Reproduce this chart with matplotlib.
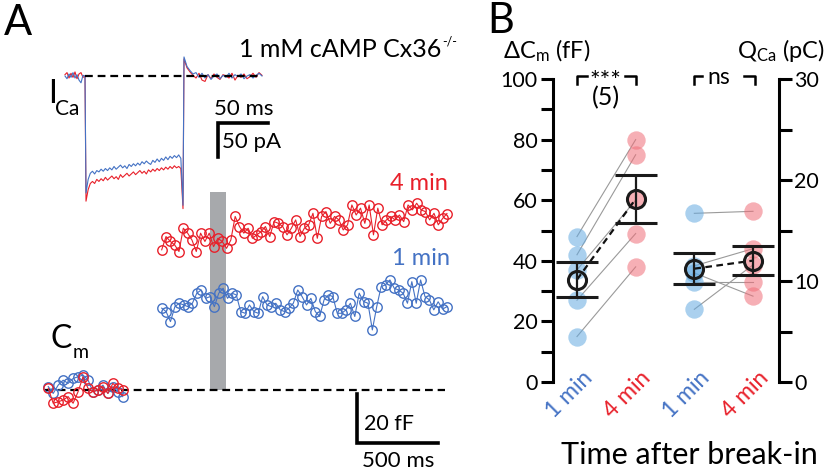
import numpy as np
import matplotlib.pyplot as plt

plt.rcParams['font.family'] = ['Lato', 'DejaVu Sans']
plt.rcParams['mathtext.fontset'] = 'custom'
plt.rcParams['mathtext.rm'] = 'Lato'
plt.rcParams['mathtext.it'] = 'Lato:italic'

BLUE = '#4472C4'
RED = '#E8202A'
PT_BLUE = '#64aae1'
PT_RED = '#f06e78'

# ---------- panel A: Ca current (pA), pre / pulse / tail segments
ica_1min_pre = [0, -4, 3, -2, 5, -3, 2, -6, -10, 1, 0]
ica_1min_pulse = [-172, -152, -143, -140, -144, -139, -141, -137, -140, -136,
                  -139, -135, -138, -133, -137, -134, -131, -135, -132, -136,
                  -130, -133, -129, -132, -128, -131, -126, -129, -125, -128,
                  -130, -124, -127, -122, -126, -121, -124, -119, -123, -118,
                  -121, -117, -120, -116, -121, -190]
ica_1min_post = [28, 14, 8, 3, 5, -2, 4, -3, 2, -5, 0, 3, -4, 1, -2, 4, -3, 2,
                 -1, 3, -4, 0, 2, -3, 1, 4, 0]
ica_4min_pre = [2, 5, -3, 4, -2, 6, -4, 3, 5, -2, 0]
ica_4min_pulse = [-184, -167, -158, -155, -158, -152, -155, -151, -154, -149,
                  -153, -150, -147, -151, -148, -152, -145, -149, -146, -143,
                  -147, -144, -141, -145, -142, -139, -143, -140, -144, -138,
                  -141, -137, -140, -136, -139, -135, -138, -134, -137, -133,
                  -136, -132, -135, -133, -136, -195]
ica_4min_post = [25, 12, 6, 1, -3, 4, -6, -8, 2, -4, 3, -2, -5, 2, 0, -3, 4,
                 -6, 1, -2, 3, -4, -1, 4, -2, 5, 1]

# ---------- panel A: membrane capacitance (fF)
cm_pre_1min = [1.4, -1.4, 2, 4, 2.7, 4.7, 5.4, 6.1, 4.1, -0.7, 0, 2, -1.4, 1.4,
               -0.7, -2.7]
cm_pre_4min = [0.7, -5.4, -4.8, -4.1, -2.7, -5.4, -0.7, 5.4, 0.7, -0.7, 0, 1.4,
               -1.4, 2.7, 0.7, 0]
cm_post_4min = [57.2, 62.6, 60.6, 59.2, 56.5, 66, 64, 61.2, 56.5, 64, 60.6, 64,
                58.5, 61.9, 60.6, 57.8, 61.2, 70.8, 66.7, 64, 66, 61.9, 63.3,
                64.6, 66.7, 62.6, 68.7, 68, 66.7, 63.3, 66, 69.4, 62.6, 66,
                67.4, 72.1, 61.9, 70.8, 72.8, 68, 70.8, 69.4, 65.3, 67.4, 75.5,
                71.4, 74.2, 68, 75.5, 63.3, 74.2, 67.4, 69.4, 70.8, 69.4, 71.4,
                68.7, 75.5, 73.5, 76.2, 73.5, 72.8, 69.4, 72.1, 67.4, 70, 72]
cm_post_1min = [33.4, 32, 27.9, 34, 35.4, 34.7, 34, 35.4, 39.5, 40.8, 37.4,
                38.1, 34, 39.5, 41.5, 37.4, 39.5, 38.8, 32, 31.3, 34.7, 32,
                31.3, 38.1, 34.7, 34, 35.4, 32.7, 32, 33.4, 35.4, 40.8, 38.1,
                34.7, 37.4, 32, 30, 36.8, 38.8, 38.1, 31.3, 31.3, 32.7, 35.4,
                30, 39.5, 36.1, 35.4, 24.5, 34, 42.2, 42.9, 44.9, 41.5, 40.8,
                39.5, 35.4, 44.2, 35.4, 44.9, 38.1, 36.8, 32.7, 36, 33, 34]

# ---------- panel B
conditions = ['1 min', '4 min']
dcm_1min = [48, 42, 37, 27, 15]
dcm_4min = [80, 75, 60, 49, 38]
qca_1min = [16.7, 11.5, 10.8, 9.9, 7.2]
qca_4min = [16.9, 13.2, 8.5, 9.9, 11.6]

W, H = 828, 471
fig = plt.figure(figsize=(W / 100, H / 100), dpi=100)


def fx(x):
    return x / W


def fy(y):
    return 1 - y / H


def ica_time(pre, pulse, post):
    return np.concatenate([np.linspace(0, 20, len(pre)),
                           np.linspace(21, 118, len(pulse)),
                           np.linspace(119, 197, len(post))])


# current trace axes: 1 ms per px, 1.47 pA per px, t=0 at x=65, 0 pA at y=76
axI = fig.add_axes([0, 0, 0.6, 1])
axI.set_xlim(-65, 0.6 * W - 65)
axI.set_ylim((76 - H) * 1.47, 76 * 1.47)
axI.axis('off')
axI.plot(ica_time(ica_4min_pre, ica_4min_pulse, ica_4min_post),
         ica_4min_pre + ica_4min_pulse + ica_4min_post, color=RED, lw=0.8)
axI.plot(ica_time(ica_1min_pre, ica_1min_pulse, ica_1min_post),
         ica_1min_pre + ica_1min_pulse + ica_1min_post, color=BLUE, lw=0.8)
axI.plot([20, 197], [0, 0], color='k', lw=1.6, dashes=(3.5, 2.2))
axI.plot([153, 153, 203], [-119, -69, -69], color='k', lw=2.6,
         solid_joinstyle='miter')

# capacitance axes: 6.17 ms per px, 0.408 fF per px, t=0 at x=45, 0 fF at y=390
axC = fig.add_axes([0, 0, 0.6, 1])
axC.set_xlim(-45 * 6.17, (0.6 * W - 45) * 6.17)
axC.set_ylim((390 - H) * 0.408, 390 * 0.408)
axC.axis('off')
axC.bar(1067, 80.8, width=100, color='#a7a9ac', zorder=1)
axC.plot([0, 2468], [0, 0], color='k', lw=1.6, dashes=(3.5, 2.2), zorder=2)
mk = dict(marker='o', ms=6.8, mfc='none', mew=1.0, lw=0.8, zorder=3)
t_pre = np.linspace(20, 480, len(cm_pre_1min))
axC.plot(t_pre, cm_pre_1min, color=BLUE, mec=BLUE, **mk)
axC.plot(t_pre, cm_pre_4min, color=RED, mec=RED, **mk)
axC.plot(np.linspace(720, 2480, len(cm_post_4min)), cm_post_4min, color=RED,
         mec=RED, **mk)
axC.plot(np.linspace(720, 2480, len(cm_post_1min)), cm_post_1min, color=BLUE,
         mec=BLUE, **mk)
axC.plot([1925, 1925, 2425], [-1.6, -21.6, -21.6], color='k', lw=2.6,
         solid_joinstyle='miter')

# panel A text
fig.text(fx(4), fy(35), 'A', fontsize=30, va='baseline')
fig.text(fx(239), fy(57), '1 mM cAMP Cx36', fontsize=18, va='baseline')
fig.text(fx(442), fy(45), '-/-', fontsize=9, va='baseline')
fig.text(fx(48), fy(103), 'I', fontsize=23, va='baseline')
fig.text(fx(55), fy(115), 'Ca', fontsize=15, va='baseline')
fig.text(fx(214), fy(115), '50 ms', fontsize=16, va='baseline')
fig.text(fx(222), fy(148), '50 pA', fontsize=16, va='baseline')
fig.text(fx(448), fy(190), '4 min', fontsize=17, va='baseline', ha='right',
         color=RED)
fig.text(fx(450), fy(265), '1 min', fontsize=17, va='baseline', ha='right',
         color=BLUE)
fig.text(fx(51), fy(348), 'C', fontsize=23, va='baseline')
fig.text(fx(73), fy(358), 'm', fontsize=14, va='baseline')
fig.text(fx(364), fy(430), '20 fF', fontsize=15.5, va='baseline')
fig.text(fx(362), fy(467), '500 ms', fontsize=16, va='baseline')

# ---------- panel B axes
axB = fig.add_axes([fx(553), 1 - 382 / H, (779 - 553) / W, (382 - 79) / H])
axB.set_xlim(0.591, 4.443)
axB.set_ylim(0, 100)
axQ = axB.twinx()
axQ.set_ylim(0, 30)

for ax in (axB, axQ):
    for s in ax.spines.values():
        s.set_visible(False)
    ax.set_xticks([])
axB.spines['left'].set_visible(True)
axB.spines['left'].set_linewidth(2.2)
axQ.spines['right'].set_visible(True)
axQ.spines['right'].set_linewidth(2.2)

axB.set_yticks(np.arange(0, 101, 20))
axB.set_yticks(np.arange(10, 100, 20), minor=True)
axQ.set_yticks(np.arange(0, 31, 10))
axQ.set_yticks(np.arange(5, 30, 10), minor=True)
for ax in (axB, axQ):
    ax.tick_params(axis='y', which='both', width=2.2, length=9, labelsize=15.5,
                   pad=2)
axB.patch.set_visible(False)


def pair_plot(ax, xs, before, after):
    for a, b in zip(before, after):
        ax.plot(xs, [a, b], color='#9a9a9a', lw=0.8, zorder=1)
    ax.scatter([xs[0]] * len(before), before, s=175, color=PT_BLUE,
               alpha=0.55, lw=0, zorder=2)
    ax.scatter([xs[1]] * len(after), after, s=175, color=PT_RED,
               alpha=0.55, lw=0, zorder=2)
    means = [np.mean(before), np.mean(after)]
    sems = [np.std(before, ddof=1) / np.sqrt(len(before)),
            np.std(after, ddof=1) / np.sqrt(len(after))]
    ax.plot(xs, means, color='#111111', lw=1.6, dashes=(3, 2), zorder=3)
    ax.errorbar(xs, means, yerr=sems, fmt='o', mfc='none', mec='#1a1a1a',
                mew=2.2, ms=13, ecolor='#1a1a1a', elinewidth=1.6, capsize=15,
                capthick=1.6, zorder=4)


pair_plot(axB, [1, 2], dcm_1min, dcm_4min)
pair_plot(axQ, [3, 4], qca_1min, qca_4min)

# significance brackets
br = dict(color='k', lw=1.8, clip_on=False)
axB.plot([1, 1, 1.17], [98.3, 101, 101], **br)
axB.plot([1.81, 2, 2], [101, 101, 98.3], **br)
axB.text(1.49, 91.4, '***\n(5)', ha='center', va='baseline', fontsize=18,
         linespacing=0.6, multialignment='center')
axB.plot([3, 3, 3.13], [98.3, 101, 101], **br)
axB.plot([3.85, 4.03, 4.03], [101, 101, 98.3], **br)
axB.text(3.42, 98.5, 'ns', ha='center', va='baseline', fontsize=16.5)

# rotated category labels
for x0, lab in zip([1, 2, 3, 4], conditions * 2):
    axB.text(x0 + 0.2, 2.5, lab, rotation=45, rotation_mode='anchor',
             ha='right', va='center', fontsize=16.5,
             color=BLUE if lab == '1 min' else RED)

fig.text(fx(487), fy(33), 'B', fontsize=30, va='baseline')
fig.text(fx(503), fy(58), r'ΔC$_\mathregular{m}$ (fF)', fontsize=17,
         va='baseline')
fig.text(fx(825), fy(58), r'Q$_\mathregular{Ca}$ (pC)', fontsize=17,
         va='baseline', ha='right')
fig.text(fx(689), fy(464), 'Time after break-in', fontsize=22, va='baseline',
         ha='center')

fig.savefig('out.png', dpi=100)
